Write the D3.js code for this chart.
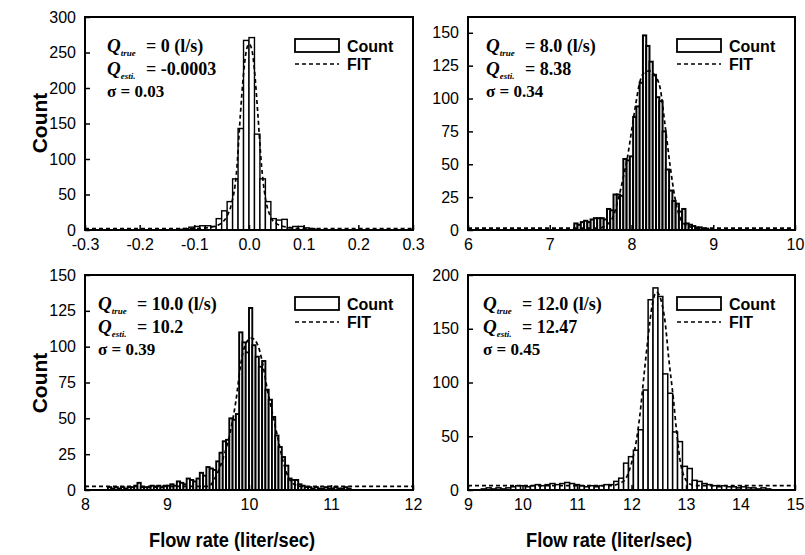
<!DOCTYPE html>
<html><head><meta charset="utf-8">
<script src="https://cdn.jsdelivr.net/npm/d3@7"></script>
<style>body{margin:0;background:#fff}svg{display:block}</style>
</head><body>
<svg id="c" width="805" height="555"></svg>
<script>
// ---------- DATA ----------
// Panel 1: Q_true = 0
const p1BinStart = -0.13, p1BinWidth = 0.01;
const p1Counts = [1,2,4,5,6,6,5,16,27,40,72,143,267,271,135,72,40,16,14,15,3,5,5,3,2,1];
const p1FitX = [-0.3,-0.1,-0.07,-0.05,-0.04,-0.032,-0.023,-0.016,-0.01,-0.005,0,0.005,0.01,0.016,0.023,0.03,0.04,0.05,0.07,0.1,0.3];
const p1FitY = [2,2,4,10,20,37,80,160,220,252,262,255,225,165,90,45,18,9,4,2,2];
const p1XTicks = [-0.3,-0.2,-0.1,0,0.1,0.2,0.3];
const p1XLabels = ["-0.3","-0.2","-0.1","0.0","0.1","0.2","0.3"];
const p1YTicks = [0,50,100,150,200,250,300];
const p1Notes = ["= 0 (l/s)","= -0.0003","\u03c3 = 0.03"];

// Panel 2: Q_true = 8.0
const p2BinStart = 7.30, p2BinWidth = 0.04;
const p2Counts = [5,4,6,7,6,8,9,9,9,8,16,15,27,27,26,54,53,56,86,94,112,148,140,128,118,101,98,75,46,30,22,20,14,16,5,4,3,2,2,1,1];
const p2FitX = [6,7.6,7.7,7.78,7.84,7.9,7.95,8.0,8.05,8.1,8.16,8.22,8.28,8.35,8.41,8.47,8.53,8.59,8.66,8.8,10];
const p2FitY = [1.5,1.5,4,11,24,40,55,75,95,112,120,121,118,108,80,50,25,10,4,1.5,1.5];
const p2XTicks = [6,7,8,9,10];
const p2XLabels = ["6","7","8","9","10"];
const p2YTicks = [0,25,50,75,100,125,150];
const p2Notes = ["= 8.0 (l/s)","= 8.38","\u03c3 = 0.34"];

// Panel 3: Q_true = 10.0
const p3BinStart = 8.28, p3BinWidth = 0.04;
const p3Counts = [2,1,2,1,2,1,2,2,3,5,2,2,2,3,2,3,2,3,3,4,3,6,5,4,8,7,6,8,12,10,16,15,14,20,26,34,35,50,49,53,110,103,96,127,101,93,86,90,70,63,51,38,30,23,17,8,7,7,4,3,2,2,1,2,1,1,2,1,1,2,1,1,2,1];
const p3FitX = [8,9.5,9.6,9.7,9.77,9.84,9.9,9.96,10.03,10.1,10.16,10.23,10.3,10.36,10.42,10.48,10.55,10.65,12];
const p3FitY = [2.5,2.5,10,25,40,62,88,102,106,102,90,68,50,34,19,9,4,2.5,2.5];
const p3XTicks = [8,9,10,11,12];
const p3XLabels = ["8","9","10","11","12"];
const p3YTicks = [0,25,50,75,100,125,150];
const p3Notes = ["= 10.0 (l/s)","= 10.2","\u03c3 = 0.39"];

// Panel 4: Q_true = 12.0
const p4BinStart = 9.245, p4BinWidth = 0.09;
const p4Counts = [1,2,1,2,1,2,3,4,4,3,4,5,4,5,6,5,6,7,6,5,4,3,4,3,4,5,5,8,11,25,31,37,56,93,177,188,180,108,90,54,45,22,20,9,8,6,5,4,3,4,3,3,2,3,2,2,1,2,1];
const p4FitX = [9,11.6,11.85,12.0,12.09,12.15,12.24,12.3,12.38,12.46,12.55,12.62,12.68,12.77,12.83,12.89,12.97,13.1,13.3,15];
const p4FitY = [4,4,8,25,46,68,112,140,172,184,175,155,124,84,53,28,12,5,4,4];
const p4XTicks = [9,10,11,12,13,14,15];
const p4XLabels = ["9","10","11","12","13","14","15"];
const p4YTicks = [0,50,100,150,200];
const p4Notes = ["= 12.0 (l/s)","= 12.47","\u03c3 = 0.45"];

const legendLabels = ["Count","FIT"];
const qSubs = ["true","esti."];
const yTitle = "Count";
const xTitle = "Flow rate (liter/sec)";

// ---------- LAYOUT ----------
const panels = [
  {box:[85,413,17,230], xDom:[-0.3,0.3], yDom:[0,300], start:p1BinStart, w:p1BinWidth, counts:p1Counts, fx:p1FitX, fy:p1FitY, xt:p1XTicks, xl:p1XLabels, yt:p1YTicks, notes:p1Notes, noteX:107, sw:1.4},
  {box:[468,795,17,230], xDom:[6,10], yDom:[0,162], start:p2BinStart, w:p2BinWidth, counts:p2Counts, fx:p2FitX, fy:p2FitY, xt:p2XTicks, xl:p2XLabels, yt:p2YTicks, notes:p2Notes, noteX:486, sw:2.0},
  {box:[85,413,275,490], xDom:[8,12], yDom:[0,150], start:p3BinStart, w:p3BinWidth, counts:p3Counts, fx:p3FitX, fy:p3FitY, xt:p3XTicks, xl:p3XLabels, yt:p3YTicks, notes:p3Notes, noteX:98, sw:1.9},
  {box:[468,795,275,490], xDom:[9,15], yDom:[0,200], start:p4BinStart, w:p4BinWidth, counts:p4Counts, fx:p4FitX, fy:p4FitY, xt:p4XTicks, xl:p4XLabels, yt:p4YTicks, notes:p4Notes, noteX:483, sw:1.5}
];

const svg = d3.select('#c');
const tickFont = "'Liberation Sans', Arial, sans-serif";
const serif = "'Liberation Serif', 'Times New Roman', serif";

panels.forEach((p, pi) => {
  const [x0,x1,y0,y1] = p.box;
  const x = d3.scaleLinear().domain(p.xDom).range([x0,x1]);
  const y = d3.scaleLinear().domain(p.yDom).range([y1,y0]);
  const g = svg.append('g');
  const clipId = 'clip'+pi;
  svg.append('clipPath').attr('id',clipId).append('rect')
    .attr('x',x0).attr('y',y0).attr('width',x1-x0).attr('height',y1-y0);

  const bins = p.counts.map((c,i)=>({a:p.start+i*p.w, b:p.start+(i+1)*p.w, c}));
  g.append('g').attr('clip-path',`url(#${clipId})`).selectAll('rect').data(bins.filter(d=>d.c>0)).join('rect')
    .attr('x',d=>x(d.a)).attr('width',d=>x(d.b)-x(d.a))
    .attr('y',d=>y(d.c)).attr('height',d=>y(0)-y(d.c))
    .attr('fill','#fff').attr('stroke','#000').attr('stroke-width',p.sw);

  const line = d3.line().x(d=>x(d[0])).y(d=>y(d[1])).curve(d3.curveMonotoneX);
  g.append('path').attr('clip-path',`url(#${clipId})`)
    .datum(p.fx.map((v,i)=>[v,p.fy[i]]))
    .attr('d',line).attr('fill','none').attr('stroke','#000')
    .attr('stroke-width',1.7).attr('stroke-dasharray','4,3');

  // axes
  const ax = d3.axisBottom(x).tickValues(p.xt).tickSize(-5).tickPadding(9)
    .tickFormat((d,i)=>p.xl[i]);
  const axG = g.append('g').attr('transform',`translate(0,${y1})`).call(ax);
  const ay = d3.axisLeft(y).tickValues(p.yt).tickSize(-5).tickPadding(9);
  const ayG = g.append('g').attr('transform',`translate(${x0},0)`).call(ay);
  [axG,ayG].forEach(a=>{
    a.select('.domain').remove();
    a.selectAll('line').attr('stroke','#000').attr('stroke-width',1.5);
    a.selectAll('text').attr('font-family',tickFont).attr('font-size',16).attr('fill','#000');
  });

  g.append('rect').attr('x',x0).attr('y',y0).attr('width',x1-x0).attr('height',y1-y0)
    .attr('fill','none').attr('stroke','#000').attr('stroke-width',2);

  // legend
  const ly = y0 + 22;
  g.append('rect').attr('x',x1-118).attr('y',ly).attr('width',44).attr('height',13)
    .attr('fill','#fff').attr('stroke','#000').attr('stroke-width',1.8);
  g.append('text').attr('x',x1-66).attr('y',ly+13).text(legendLabels[0])
    .attr('font-family',tickFont).attr('font-weight','bold').attr('font-size',16);
  g.append('line').attr('x1',x1-118).attr('x2',x1-74).attr('y1',ly+25).attr('y2',ly+25)
    .attr('stroke','#000').attr('stroke-width',1.6).attr('stroke-dasharray','4,3');
  g.append('text').attr('x',x1-66).attr('y',ly+31).text(legendLabels[1])
    .attr('font-family',tickFont).attr('font-weight','bold').attr('font-size',16);

  // annotations
  const nx = p.noteX, base = y0 + 35;
  for (let k=0;k<2;k++){
    const t = g.append('text').attr('x',nx).attr('y',base+k*23)
      .attr('font-family',serif).attr('font-weight','bold');
    t.append('tspan').text('Q').attr('font-style','italic').attr('font-size',19);
    t.append('tspan').text(qSubs[k]).attr('font-style','italic').attr('font-size',9).attr('dy',4);
    g.append('text').attr('x',nx+39).attr('y',base+k*23).text(p.notes[k])
      .attr('font-family',serif).attr('font-weight','bold').attr('font-size',18);
  }
  g.append('text').attr('x',nx).attr('y',base+45).text(p.notes[2])
    .attr('font-family',serif).attr('font-weight','bold').attr('font-size',17);
});

// axis titles
[123,383].forEach(cy=>{
  svg.append('text').attr('transform',`translate(47,${cy}) rotate(-90)`)
    .attr('text-anchor','middle').text(yTitle)
    .attr('font-family',tickFont).attr('font-weight','bold').attr('font-size',21);
});
[232,609].forEach(cx=>{
  svg.append('text').attr('x',cx).attr('y',547).attr('text-anchor','middle').text(xTitle)
    .attr('font-family',tickFont).attr('font-weight','bold').attr('font-size',20)
    .attr('textLength',166).attr('lengthAdjust','spacingAndGlyphs');
});
</script>
</body></html>
